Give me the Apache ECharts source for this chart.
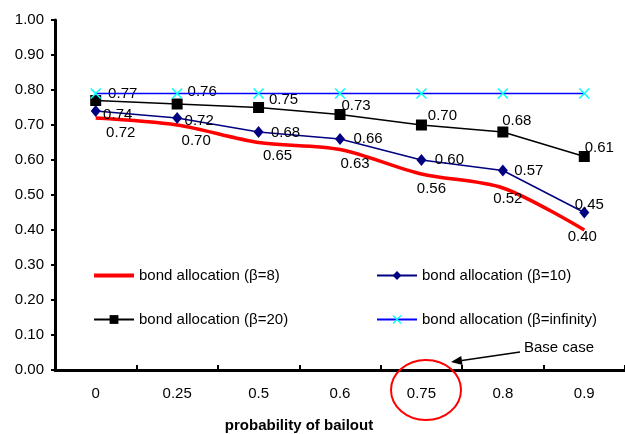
<!DOCTYPE html>
<html>
<head>
<meta charset="utf-8">
<script src="https://cdn.jsdelivr.net/npm/echarts@6/dist/echarts.min.js"></script>
<style>
  html, body { margin: 0; padding: 0; background: #fff; }
  #chart { width: 625px; height: 434px; }
</style>
</head>
<body>
<div id="chart"></div>
<script>
// Probability of bailout (category axis)
const categories = ['0', '0.25', '0.5', '0.6', '0.75', '0.8', '0.9'];

// Bond allocation for each risk-aversion level
const beta8 = [0.72, 0.70, 0.65, 0.63, 0.56, 0.52, 0.40];
const beta10 = [0.74, 0.72, 0.68, 0.66, 0.60, 0.57, 0.45];
const beta20 = [0.77, 0.76, 0.75, 0.73, 0.70, 0.68, 0.61];
const betaInf = [0.79, 0.79, 0.79, 0.79, 0.79, 0.79, 0.79];

const seriesNames = [
  'bond allocation (β=8)',
  'bond allocation (β=10)',
  'bond allocation (β=20)',
  'bond allocation (β=infinity)'
];

// Label placement (offset of each value label from its point, in px)
const off8 = [[25, 15], [19, 16], [19, 13], [15, 14], [10, 15], [5, 11], [-2, 7]];
const off10 = [[22, 4], [22, 3], [27, 1], [28, 0], [28, 0], [26, 0], [5, -8]];
const off20 = [[27, -7], [25, -12], [25, -8], [16, -9], [21, -9], [14, -11], [15, -9]];

const FONT = '"Liberation Sans", Arial, sans-serif';

function withLabels(values, offsets) {
  return values.map((v, i) => ({
    value: v,
    label: { offset: offsets[i] }
  }));
}

const labelBase = {
  show: true,
  position: 'inside',
  color: '#000',
  fontFamily: FONT,
  fontSize: 15,
  formatter: p => p.value.toFixed(2)
};

const crossPath = 'path://M0,1L1,0L5,4L9,0L10,1L6,5L10,9L9,10L5,6L1,10L0,9L4,5Z';

const chart = echarts.init(document.getElementById('chart'), null, { renderer: 'canvas' });

// Arrow pointing at the base case
const tail = [520, 352];
const tip = [451, 362];
const dx = tip[0] - tail[0], dy = tip[1] - tail[1];
const len = Math.sqrt(dx * dx + dy * dy);
const ux = dx / len, uy = dy / len;
const headLen = 11, headW = 4.5;
const baseX = tip[0] - ux * headLen, baseY = tip[1] - uy * headLen;
const arrowHead = [
  tip,
  [baseX - uy * headW, baseY + ux * headW],
  [baseX + uy * headW, baseY - ux * headW]
];

const legendCommon = {
  orient: 'vertical',
  top: 263,
  itemWidth: 40, itemHeight: 11, itemGap: 29,
  textStyle: { fontFamily: FONT, fontSize: 15, color: '#000' },
  selectedMode: false
};

chart.setOption({
  animation: false,
  backgroundColor: '#fff',
  textStyle: { fontFamily: FONT },
  grid: { left: 55, top: 20, width: 577, height: 350, containLabel: false },
  legend: [
    Object.assign({}, legendCommon, {
      left: 88,
      data: [
        { name: seriesNames[0], icon: 'path://M0,0H40V4H0Z', itemStyle: { color: '#FF0000' } },
        seriesNames[2]
      ]
    }),
    Object.assign({}, legendCommon, {
      left: 371,
      data: [seriesNames[1], seriesNames[3]]
    })
  ],
  xAxis: {
    type: 'category',
    data: categories,
    boundaryGap: true,
    axisLine: { lineStyle: { color: '#000', width: 3 } },
    axisTick: { show: true, inside: true, length: 5, lineStyle: { color: '#000', width: 2 } },
    axisLabel: { color: '#000', fontFamily: FONT, fontSize: 15, margin: 16 },
    splitLine: { show: false }
  },
  yAxis: {
    type: 'value',
    min: 0, max: 1, interval: 0.1,
    axisLine: { show: true, lineStyle: { color: '#000', width: 3 } },
    axisTick: { show: true, length: 4, lineStyle: { color: '#000', width: 2 } },
    axisLabel: {
      color: '#000', fontFamily: FONT, fontSize: 15, margin: 11,
      formatter: v => v.toFixed(2)
    },
    splitLine: { show: false }
  },
  series: [
    {
      name: seriesNames[0],
      type: 'line',
      data: withLabels(beta8, off8),
      smooth: 0.3,
      symbol: 'circle',
      symbolSize: 1,
      itemStyle: { color: 'rgba(255,0,0,0)' },
      lineStyle: { color: '#FF0000', width: 3.5 },
      label: labelBase,
      z: 2
    },
    {
      name: seriesNames[1],
      type: 'line',
      data: withLabels(beta10, off10),
      symbol: 'diamond',
      symbolSize: [10, 12],
      itemStyle: { color: '#000080' },
      lineStyle: { color: '#000080', width: 1.5 },
      label: labelBase,
      z: 3
    },
    {
      name: seriesNames[2],
      type: 'line',
      data: withLabels(beta20, off20),
      symbol: 'rect',
      symbolSize: 11,
      itemStyle: { color: '#000' },
      lineStyle: { color: '#000', width: 1.5 },
      label: labelBase,
      z: 3
    },
    {
      name: seriesNames[3],
      type: 'line',
      data: betaInf,
      symbol: crossPath,
      symbolSize: 11,
      itemStyle: { color: '#00FFFF' },
      lineStyle: { color: '#0000FF', width: 1.5 },
      z: 4
    }
  ],
  graphic: [
    {
      type: 'ellipse',
      shape: { cx: 426, cy: 390, rx: 35, ry: 30 },
      style: { fill: 'none', stroke: '#FF0000', lineWidth: 2 },
      z: 10
    },
    {
      type: 'line',
      shape: { x1: tail[0], y1: tail[1], x2: baseX, y2: baseY },
      style: { stroke: '#000', lineWidth: 1.5 },
      z: 10
    },
    {
      type: 'polygon',
      shape: { points: arrowHead },
      style: { fill: '#000' },
      z: 10
    },
    {
      type: 'text',
      x: 524, y: 348,
      style: {
        text: 'Base case', fill: '#000', font: '15px ' + FONT,
        textAlign: 'left', textVerticalAlign: 'middle'
      },
      z: 10
    },
    {
      type: 'text',
      x: 299, y: 426,
      style: {
        text: 'probability of bailout', fill: '#000', font: 'bold 15px ' + FONT,
        textAlign: 'center', textVerticalAlign: 'middle'
      },
      z: 10
    }
  ]
});
</script>
</body>
</html>
